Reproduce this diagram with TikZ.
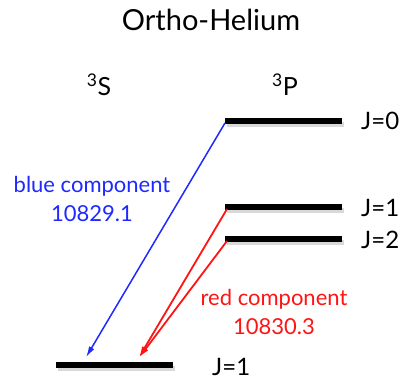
\documentclass[tikz,border=0pt]{standalone}
\usepackage{fontspec}
\setmainfont{Lato}
\usetikzlibrary{arrows.meta,calc}
\definecolor{bluec}{RGB}{30,40,255}
\definecolor{redc}{RGB}{255,20,20}
\tikzset{
  level/.style={line width=5.5pt, black},
  shadowlvl/.style={line width=5pt, black!15},
  jlab/.style={anchor=west, font=\fontsize{24}{26}\selectfont, inner sep=0pt},
  comp/.style={align=center, font=\fontsize{22}{29}\selectfont, inner sep=0pt},
  trans/.style={line width=1.5pt, -{Latex[length=11pt,width=6pt]}, shorten >=2pt},
}
\begin{document}
\begin{tikzpicture}[x=1pt,y=-1pt]
\useasboundingbox (0,0) rectangle (404,383);
\node[font=\fontsize{29}{32}\selectfont] (title) at (211,20) {Ortho-Helium};
\node[font=\fontsize{25}{28}\selectfont] (S) at (99,85) {\textsuperscript{3}S};
\node[font=\fontsize{25}{28}\selectfont] (P) at (285,85) {\textsuperscript{3}P};
% shadows
\draw[shadowlvl] (227,124) -- (344,124);
\draw[shadowlvl] (227,210) -- (344,210);
\draw[shadowlvl] (227,242) -- (344,242);
\draw[shadowlvl] (58,368) -- (175,368);
% levels
\coordinate (a0) at (225,121);
\coordinate (b0) at (342,121);
\coordinate (a1) at (225,207);
\coordinate (b1) at (342,207);
\coordinate (a2) at (225,239);
\coordinate (b2) at (342,239);
\coordinate (g0) at (56,365);
\coordinate (g1) at (173,365);
\draw[level] (a0) -- (b0);
\draw[level] (a1) -- (b1);
\draw[level] (a2) -- (b2);
\draw[level] (g0) -- (g1);
\node[jlab] (j0) at (361,121) {J=0};
\node[jlab] (j1) at (361,208) {J=1};
\node[jlab] (j2) at (361,240) {J=2};
\node[jlab] (jg) at (212,367) {J=1};
\coordinate (tb) at (85,359);
\coordinate (tr) at (138,359);
\draw[trans, bluec] ($(a0)+(0,2)$) -- (tb);
\draw[trans, redc, line width=1.8pt] ($(a1)+(2,2)$) -- (tr);
\draw[trans, redc, line width=1.8pt] ($(a2)+(2,2)$) -- (tr);
\node[comp, text=bluec] (bl) at (92,199) {blue component\\10829.1};
\node[comp, text=redc] (rl) at (274,312) {red component\\10830.3};
\end{tikzpicture}
\end{document}
